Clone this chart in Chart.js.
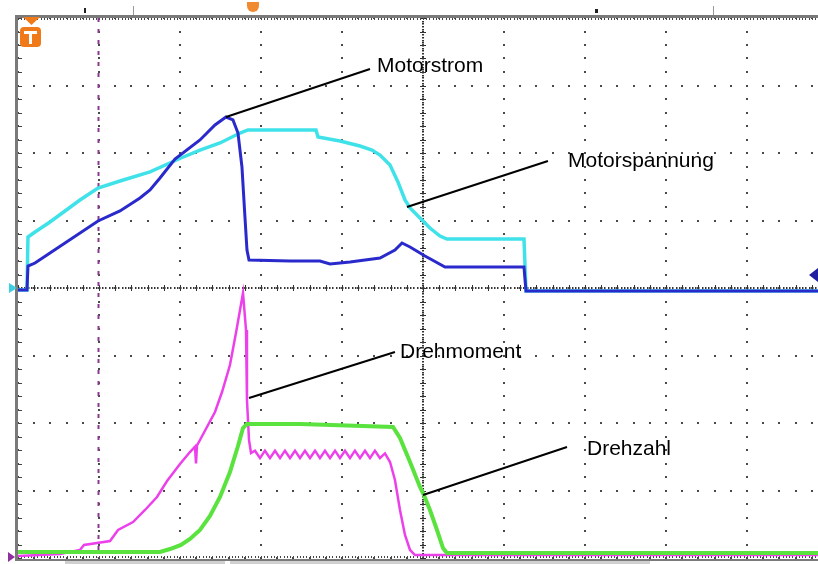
<!DOCTYPE html>
<html>
<head>
<meta charset="utf-8">
<script src="https://cdn.jsdelivr.net/npm/chart.js@4.4.1/dist/chart.umd.min.js"></script>
<style>
  html, body { margin: 0; padding: 0; background: #fff; }
  #wrap { width: 818px; height: 564px; }
</style>
</head>
<body>
<div id="wrap"><canvas id="scope" width="818" height="564"></canvas></div>
<script>
// Units: x = horizontal screen divisions (0..10, the last one runs off the screen),
// y = vertical divisions, -4..4, channel 1/2 ground on 0, channel 3/4 ground near -4

// Motorstrom (dark blue)
const stromT = [0, 0.111, 0.123, 0.21, 0.395, 0.988, 1.259, 1.506, 1.63, 1.753, 1.938, 2.247, 2.432, 2.568, 2.654,
  2.716, 2.765, 2.802, 2.827, 2.852, 3.358, 3.728, 3.852, 4.099, 4.469, 4.654, 4.741, 4.84, 5.025,
  5.272, 6.247, 6.272, 9.877]
const stromV = [-0.03, -0.03, 0.326, 0.37, 0.52, 0.993, 1.141, 1.333, 1.452, 1.63, 1.911, 2.193, 2.415, 2.533, 2.489,
  2.296, 1.793, 1.052, 0.563, 0.415, 0.4, 0.4, 0.356, 0.385, 0.444, 0.563, 0.667, 0.607, 0.474,
  0.311, 0.311, -0.044, -0.044]

// Motorspannung (cyan)
const spannT = [0, 0.111, 0.123, 0.21, 0.395, 0.765, 0.988, 1.259, 1.63, 2.012, 2.247, 2.494, 2.741, 2.84,
  3.235, 3.679, 3.704, 3.975, 4.222, 4.37, 4.469, 4.593, 4.691, 4.778, 4.84, 4.963, 5.086, 5.21, 5.296, 5.704,
  6.247, 6.272, 9.877]
const spannV = [-0.03, -0.03, 0.756, 0.83, 0.978, 1.304, 1.481, 1.585, 1.719, 1.926, 2.044, 2.148, 2.296, 2.341,
  2.341, 2.341, 2.237, 2.178, 2.104, 2.044, 1.97, 1.822, 1.57, 1.304, 1.185, 1.037, 0.889, 0.77, 0.726, 0.726,
  0.726, -0.044, -0.044]

// Drehmoment (magenta)
const momentT = [0, 0.519, 0.765, 0.815, 1.136, 1.235, 1.42, 1.568, 1.716, 1.84, 2.0, 2.123, 2.185, 2.198, 2.21,
  2.247, 2.333, 2.432, 2.519, 2.617, 2.691, 2.741, 2.778, 2.815, 2.827, 2.852, 2.877,
  2.926, 2.988, 3.049, 3.111, 3.173, 3.235, 3.296, 3.358, 3.42, 3.481, 3.543, 3.605, 3.667, 3.728,
  3.79, 3.852, 3.914, 3.975, 4.037, 4.099, 4.16, 4.222, 4.284, 4.346, 4.407, 4.469, 4.531,
  4.593, 4.654, 4.716, 4.778, 4.84, 4.901, 9.877]
const momentV = [-3.97, -3.941, -3.881, -3.807, -3.748, -3.585, -3.467, -3.289, -3.096, -2.859, -2.607, -2.43, -2.35, -2.6, -2.33,
  -2.252, -2.059, -1.837, -1.541, -1.141, -0.667, -0.326, -0.074, -0.622, -1.659, -2.252, -2.444,
  -2.41, -2.52, -2.41, -2.52, -2.41, -2.52, -2.41, -2.52, -2.41, -2.52, -2.41, -2.52, -2.41, -2.52,
  -2.41, -2.52, -2.41, -2.52, -2.41, -2.52, -2.41, -2.52, -2.41, -2.52, -2.41, -2.52, -2.45,
  -2.578, -2.844, -3.289, -3.659, -3.881, -3.956, -3.956]

// Drehzahl (green)
const zahlT = [0, 1.753, 1.877, 2.012, 2.123, 2.247, 2.37, 2.494, 2.617, 2.716, 2.778, 2.827, 3.481, 4.63, 4.716,
  4.84, 4.963, 5.012, 5.086, 5.173, 5.247, 5.296, 9.877]
const zahlV = [-3.911, -3.911, -3.867, -3.807, -3.719, -3.585, -3.378, -3.096, -2.726, -2.341, -2.074, -2.015, -2.015, -2.059, -2.222,
  -2.578, -2.948, -3.067, -3.289, -3.585, -3.852, -3.926, -3.926]

// trace labels: leader line from the trace to the text, text anchored at its baseline
const labelText = ['Motorstrom', 'Motorspannung', 'Drehmoment', 'Drehzahl']
const labelFrom = [[2.568, 2.533], [4.802, 1.2], [2.852, -1.63], [5.0, -3.067]]
const labelTo = [[4.346, 3.244], [6.543, 1.881], [4.654, -0.948], [6.778, -2.356]]
const labelAt = [[4.432, 3.2], [6.79, 1.793], [4.716, -1.037], [7.025, -2.474]]

const cursorPos = 0.988
const triggerPos = 2.901

const toPoints = (xs, ys) => xs.map((t, i) => ({ x: t, y: ys[i] }))

const scopeGrid = {
  id: 'scopeGrid',
  beforeDatasetsDraw(chart) {
    const { ctx, scales: { x, y }, chartArea: a } = chart
    ctx.save()

    // dotted graticule, one dot per minor division
    ctx.fillStyle = '#4a4a4a'
    for (let i = 0; i <= 10; i++) {
      const px = Math.round(x.getPixelForValue(i))
      for (let j = -20; j <= 20; j++) {
        const py = Math.round(y.getPixelForValue(j / 5))
        ctx.fillRect(px - 1, py - 1, 2, 2)
      }
    }
    for (let k = -4; k <= 4; k++) {
      const py = Math.round(y.getPixelForValue(k))
      for (let j = 0; j <= 50; j++) {
        const px = Math.round(x.getPixelForValue(j / 5))
        ctx.fillRect(px - 1, py - 1, 2, 2)
      }
    }

    // center cross with fine ticks
    const cx = Math.round(x.getPixelForValue(5))
    const cy = Math.round(y.getPixelForValue(0))
    ctx.fillStyle = '#333'
    for (let v = 0; v <= 10; v += 0.04) {
      ctx.fillRect(Math.round(x.getPixelForValue(v)), cy - 1, 1.5, 2)
    }
    for (let v = -4; v <= 4; v += 0.04) {
      ctx.fillRect(cx - 1, Math.round(y.getPixelForValue(v)), 2, 1.5)
    }
    ctx.strokeStyle = '#333'
    ctx.lineWidth = 1
    ctx.beginPath()
    for (let j = 0; j <= 50; j++) {
      const px = Math.round(x.getPixelForValue(j / 5)) + 0.5
      ctx.moveTo(px, cy - 3); ctx.lineTo(px, cy + 3)
    }
    for (let j = -20; j <= 20; j++) {
      const py = Math.round(y.getPixelForValue(j / 5)) + 0.5
      ctx.moveTo(cx - 3, py); ctx.lineTo(cx + 3, py)
    }
    ctx.stroke()

    // frame
    ctx.fillStyle = '#7a7a7a'
    ctx.fillRect(a.left - 3, a.top - 3, 3, a.bottom - a.top + 6)
    ctx.fillRect(a.left - 3, a.top - 3, a.right - a.left + 3, 3)
    ctx.fillRect(a.left - 3, a.bottom + 1, a.right - a.left + 3, 2)
    ctx.fillStyle = '#d0d0d0'
    ctx.fillRect(65, a.bottom + 3, 160, 3)
    ctx.fillRect(230, a.bottom + 3, 420, 3)
    ctx.strokeStyle = '#444'
    ctx.beginPath()
    for (let j = -20; j <= 20; j++) {
      const py = Math.round(y.getPixelForValue(j / 5)) + 0.5
      ctx.moveTo(a.left, py); ctx.lineTo(a.left + 4, py)
    }
    for (let v = 0; v <= 10; v += 0.04) {
      const px = Math.round(x.getPixelForValue(v)) + 0.5
      ctx.moveTo(px, a.top); ctx.lineTo(px, a.top + 2)
      ctx.moveTo(px, a.bottom); ctx.lineTo(px, a.bottom - 2)
    }
    ctx.stroke()

    // cursor
    const kx = Math.round(x.getPixelForValue(cursorPos)) + 0.5
    ctx.strokeStyle = '#8a3a8e'
    ctx.lineWidth = 2
    ctx.setLineDash([4, 7])
    ctx.beginPath()
    ctx.moveTo(kx, a.top); ctx.lineTo(kx, a.bottom)
    ctx.stroke()
    ctx.restore()
  },
  afterDatasetsDraw(chart) {
    const { ctx, scales: { x, y }, chartArea: a } = chart
    ctx.save()

    // leader lines and trace names
    ctx.strokeStyle = '#000'
    ctx.lineWidth = 2
    ctx.fillStyle = '#000'
    ctx.font = '21px "Liberation Sans", Arial, sans-serif'
    ctx.textBaseline = 'alphabetic'
    labelText.forEach((txt, i) => {
      ctx.beginPath()
      ctx.moveTo(x.getPixelForValue(labelFrom[i][0]), y.getPixelForValue(labelFrom[i][1]))
      ctx.lineTo(x.getPixelForValue(labelTo[i][0]), y.getPixelForValue(labelTo[i][1]))
      ctx.stroke()
      ctx.fillText(txt, x.getPixelForValue(labelAt[i][0]), y.getPixelForValue(labelAt[i][1]))
    })

    // trigger marker "T"
    ctx.fillStyle = '#f07a1a'
    ctx.beginPath()
    ctx.moveTo(23, 17); ctx.lineTo(40, 17); ctx.lineTo(31.5, 25)
    ctx.fill()
    ctx.beginPath()
    ctx.roundRect(20, 27, 21, 20, 4)
    ctx.fill()
    ctx.fillStyle = '#fff'
    ctx.fillRect(24, 31, 13, 3)
    ctx.fillRect(29, 31, 3, 13)

    // trigger position on top edge
    const tx = x.getPixelForValue(triggerPos)
    ctx.fillStyle = '#f08a30'
    ctx.beginPath()
    ctx.arc(tx, 6, 6, 0, Math.PI)
    ctx.fill()
    ctx.fillRect(tx - 6, 2, 12, 4)
    ctx.fillStyle = '#222'
    ctx.fillRect(84, 8, 2, 5)
    ctx.fillRect(595, 9, 3, 4)
    ctx.fillStyle = '#999'
    ctx.fillRect(133, 6, 1, 9)
    ctx.fillRect(713, 6, 1, 9)

    // channel ground markers
    const g = y.getPixelForValue(0)
    ctx.fillStyle = '#3ccfe0'
    ctx.beginPath()
    ctx.moveTo(9, g - 5); ctx.lineTo(17, g); ctx.lineTo(9, g + 5)
    ctx.fill()
    ctx.fillStyle = '#2020a0'
    ctx.beginPath()
    ctx.moveTo(818, 268); ctx.lineTo(809, 275); ctx.lineTo(818, 282)
    ctx.fill()
    ctx.fillStyle = '#9030a0'
    ctx.beginPath()
    ctx.moveTo(8, a.bottom - 6); ctx.lineTo(15, a.bottom - 1); ctx.lineTo(8, a.bottom + 4)
    ctx.fill()
    ctx.restore()
  }
}

const trace = (pts, color, width) => ({
  data: pts,
  showLine: true,
  borderColor: color,
  borderWidth: width,
  pointRadius: 0,
  tension: 0
})

// first dataset ends up on top
new Chart(document.getElementById('scope'), {
  type: 'scatter',
  data: {
    datasets: [
      trace(toPoints(stromT, stromV), '#2a2acc', 3),
      trace(toPoints(spannT, spannV), '#40e2ea', 3.5),
      trace(toPoints(zahlT, zahlV), '#5ae23e', 4),
      trace(toPoints(momentT, momentV), '#ec40ea', 2.5)
    ]
  },
  options: {
    responsive: false,
    animation: false,
    layout: { padding: { left: 18, top: 18, right: 0, bottom: 6 } },
    plugins: { legend: { display: false }, tooltip: { enabled: false } },
    scales: {
      x: { type: 'linear', min: 0, max: 9.877, display: false },
      y: { type: 'linear', min: -4, max: 4, display: false }
    }
  },
  plugins: [scopeGrid]
})
</script>
</body>
</html>
